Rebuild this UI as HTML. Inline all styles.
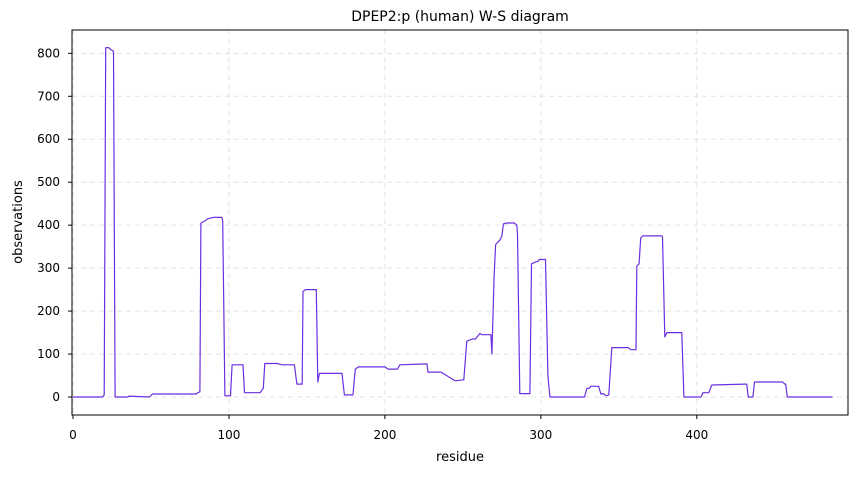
<!DOCTYPE html>
<html><head><meta charset="utf-8"><style>
body{margin:0;background:#fff;font-family:"Liberation Sans",sans-serif}
svg text{font-family:"DejaVu Sans","Liberation Sans",sans-serif;fill:#000}
</style></head><body>
<svg id="chart" width="856" height="474" xmlns="http://www.w3.org/2000/svg">
<rect width="856" height="474" fill="#fff"/>
<g id="grid"></g>
<g id="series"></g>
<rect x="72" y="30" width="776" height="385" fill="none" stroke="#000" stroke-width="1"/>
<g id="ticks"></g>
<text x="460" y="21" text-anchor="middle" font-size="14">DPEP2:p (human) W-S diagram</text>
<text x="460" y="461" text-anchor="middle" font-size="13">residue</text>
<text transform="translate(22,222) rotate(-90)" text-anchor="middle" font-size="13">observations</text>
</svg>
<script>
const residues=[0,19,20,21,23,24.4,26,27,35,36,49,51,79,80,81.4,82,84.6,86.5,90,95.5,96,97.4,101,102,109,110,120,122,123,131,134,142,143.6,147,147.5,149,156,157,158,172.5,174,179.5,181,183,200,202,208,209.6,227,227.6,235,236,245,246,250.6,252.5,256,258,261,262,268,268.6,270,271,273.7,275,276,278,283,284.6,285,286.5,293,294,297,298,299,303,304.5,305.8,328,329.5,331,332,337,338.5,340,342,343.6,345.5,356,357.7,361,361.5,363,364,365.4,377.6,378,379.5,380.8,390.4,391.7,402.6,404,407.7,409.6,430.8,432,433,436,437,455,456.4,457,458,487];
const observations=[0,0,5,813,813,808,805,0,0,2,0,7,7,10,12,405,410,415,418,418,410,3,3,75,75,10,10,20,78,78,75,75,30,30,245,250,250,35,55,55,5,5,65,70,70,65,65,75,77,58,58,58,38,38,40,130,135,135,148,145,145,100,280,355,365,375,403,405,405,400,380,8,8,310,315,315,320,320,50,0,0,20,20,25,25,7,8,3,5,115,115,110,110,305,310,370,375,375,373,140,150,150,0,0,10,10,28,30,30,0,0,35,35,30,30,0,0];
const xTicks=[0,100,200,300,400];
const yTicks=[0,100,200,300,400,500,600,700,800];
const L=72,R=848,T=30,B=415;
const xs=v=>73+v*1.5595;
const ys=v=>397-v*0.4296;
const NS="http://www.w3.org/2000/svg";
function mk(tag,attrs,parent){const e=document.createElementNS(NS,tag);for(const k in attrs)e.setAttribute(k,attrs[k]);parent.appendChild(e);return e;}
const grid=document.getElementById('grid'),ticks=document.getElementById('ticks'),series=document.getElementById('series');
xTicks.forEach(t=>{
  const x=xs(t);
  const g=mk('line',{x1:x,x2:x,y1:T,y2:B,stroke:'#e3e3e3','stroke-dasharray':'5,4','stroke-width':1},grid);
  
  
  const tk=mk('line',{x1:x,x2:x,y1:B,y2:B+4,stroke:'#000'},ticks);
  
  
  const lb=mk('text',{x:x,y:B+24,'text-anchor':'middle','font-size':12},ticks);
  lb.textContent=t;
  
  
});
yTicks.forEach(t=>{
  const y=ys(t);
  const g=mk('line',{x1:L,x2:R,y1:y,y2:y,stroke:'#e3e3e3','stroke-dasharray':'5,4','stroke-width':1},grid);
  
  
  const tk=mk('line',{x1:L-4,x2:L,y1:y,y2:y,stroke:'#000'},ticks);
  
  
  const lb=mk('text',{x:L-12,y:y+4,'text-anchor':'end','font-size':12},ticks);
  lb.textContent=t;
  
  
});
const pts=residues.map((r,i)=>xs(r).toFixed(1)+','+ys(observations[i]).toFixed(1)).join(' ');
const pl=mk('polyline',{points:pts,fill:'none',stroke:'#6a2fe0','stroke-width':1.2,'stroke-linejoin':'round'},series);


</script>
</body></html>
